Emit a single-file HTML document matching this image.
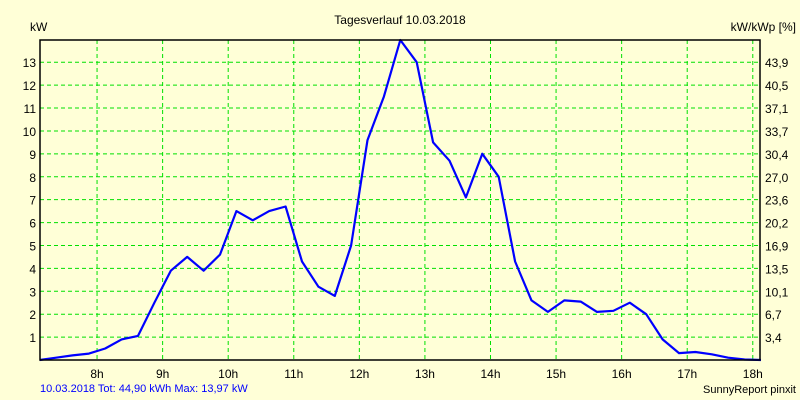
<!DOCTYPE html>
<html><head><meta charset="utf-8"><style>
body{margin:0;background:#FFFFD7;}
svg{display:block;font-family:"Liberation Sans",sans-serif;}
</style></head><body>
<svg id="chart" width="800" height="400" viewBox="0 0 800 400">
<rect width="800" height="400" fill="#FFFFD7"/>
<text x="400" y="24" font-size="12" text-anchor="middle">Tagesverlauf 10.03.2018</text>
<text x="30" y="31" font-size="12">kW</text>
<text x="796" y="31" font-size="12" text-anchor="end">kW/kWp [%]</text>
<g id="grid"></g>
<g id="ticks"></g>
<polyline id="line" fill="none" stroke="#0000FF" stroke-width="2.2" stroke-linejoin="round"/>
<rect x="40" y="40" width="720" height="320" fill="none" stroke="#000" stroke-width="1.5"/>
<text x="40" y="392" font-size="11" fill="#0000FF">10.03.2018 Tot: 44,90 kWh Max: 13,97 kW</text>
<text x="796" y="393" font-size="11" text-anchor="end">SunnyReport pinxit</text>
</svg>
<script>
const hourTicks = [8,9,10,11,12,13,14,15,16,17,18];
const kwTicks = [1,2,3,4,5,6,7,8,9,10,11,12,13];
const pctLabels = ["3,4","6,7","10,1","13,5","16,9","20,2","23,6","27,0","30,4","33,7","37,1","40,5","43,9"];
const times = [7.125,7.375,7.625,7.875,8.125,8.375,8.625,8.875,9.125,9.375,9.625,9.875,10.125,10.375,10.625,10.875,11.125,11.375,11.625,11.875,12.125,12.375,12.625,12.875,13.125,13.375,13.625,13.875,14.125,14.375,14.625,14.875,15.125,15.375,15.625,15.875,16.125,16.375,16.625,16.875,17.125,17.375,17.625,17.875,18.125];
const power = [0,0.1,0.2,0.28,0.5,0.9,1.05,2.5,3.9,4.5,3.9,4.6,6.5,6.1,6.5,6.7,4.3,3.2,2.8,5.0,9.6,11.5,13.97,13.0,9.5,8.7,7.1,9.0,8.0,4.3,2.6,2.1,2.6,2.55,2.1,2.15,2.5,2.0,0.9,0.3,0.35,0.25,0.1,0.02,0];
const L=40,R=760,T=40,B=360,t0=7.13,t1=18.11,yMax=13.97;
const xs=t=>L+(t-t0)/(t1-t0)*(R-L);
const ys=v=>B-v/yMax*(B-T);
const ns="http://www.w3.org/2000/svg";
const grid=document.getElementById('grid'),ticks=document.getElementById('ticks');
function mk(tag,attrs,parent){const e=document.createElementNS(ns,tag);for(const k in attrs)e.setAttribute(k,attrs[k]);parent.appendChild(e);return e;}
hourTicks.forEach(h=>{const x=xs(h);
 const g=mk('line',{x1:x,x2:x,y1:T,y2:B,stroke:'#00E000','stroke-width':1,'stroke-dasharray':'4,3'},grid);
 
 
 const t=mk('text',{x:x,y:B+18,'font-size':12,'text-anchor':'middle'},ticks);t.textContent=h+'h';
 
 
});
kwTicks.forEach((v,i)=>{const y=ys(v);
 const g=mk('line',{x1:L,x2:R,y1:y,y2:y,stroke:'#00E000','stroke-width':1,'stroke-dasharray':'4,3'},grid);
 
 
 const t=mk('text',{x:L-4,y:y+5,'font-size':12,'text-anchor':'end'},ticks);t.textContent=v;
 
 
 const t2=mk('text',{x:R+5,y:y+5,'font-size':12},ticks);t2.textContent=pctLabels[i];
 
 
});
document.getElementById('line').setAttribute('points',times.map((t,i)=>xs(t).toFixed(1)+','+ys(power[i]).toFixed(1)).join(' '));
</script>
</body></html>
